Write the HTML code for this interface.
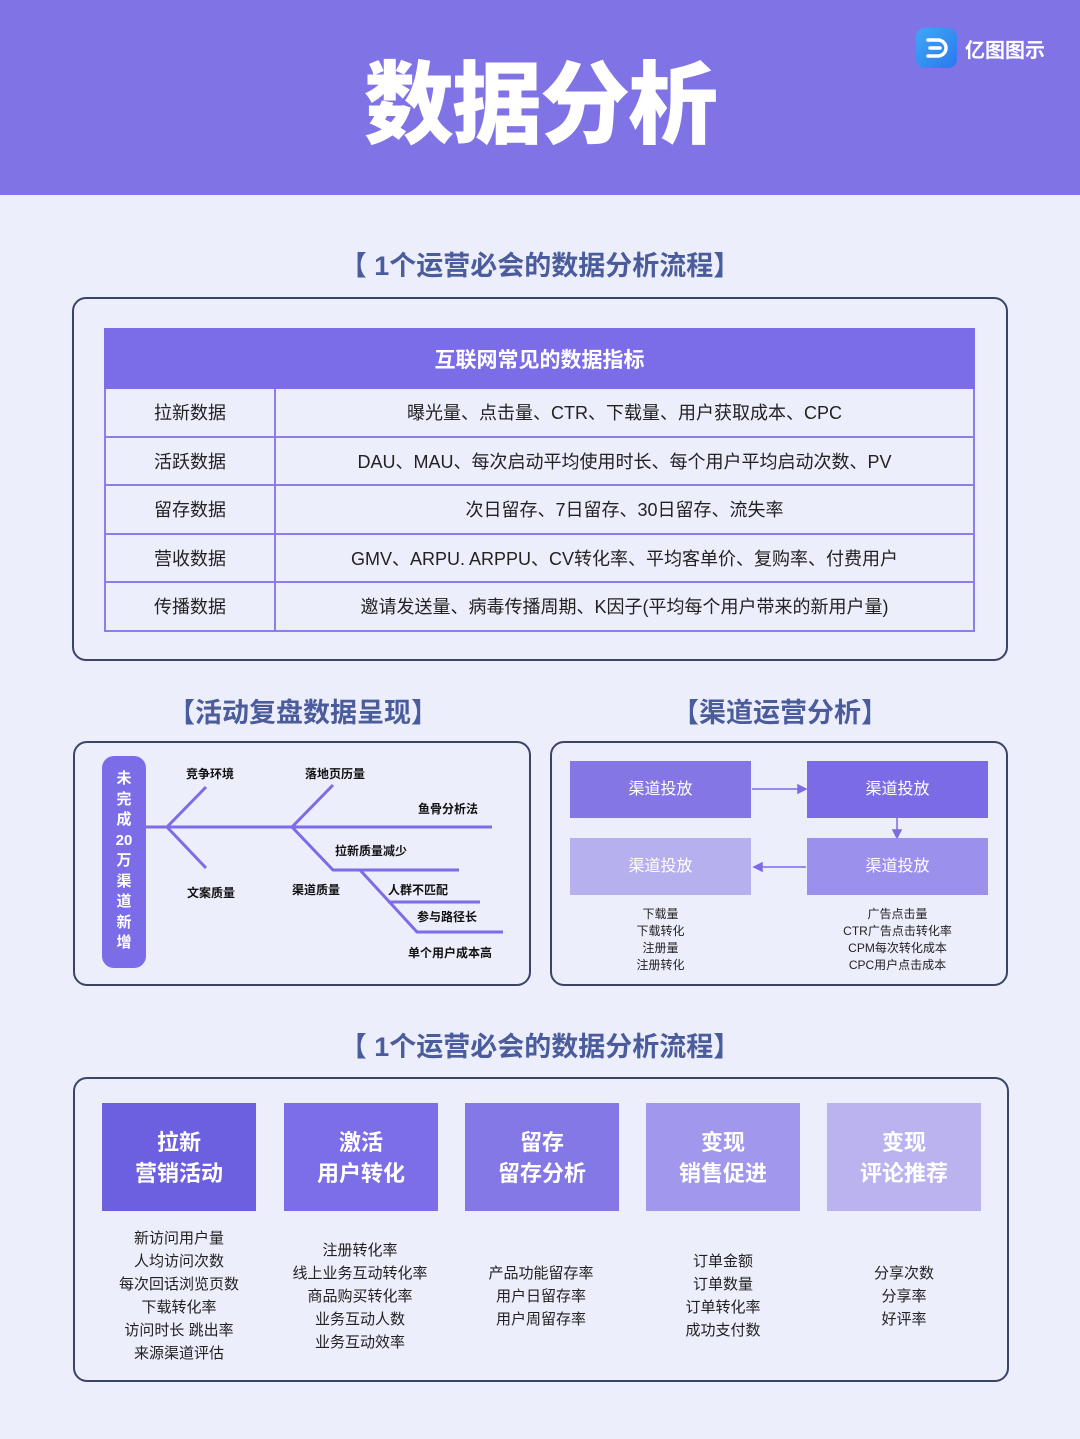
<!DOCTYPE html>
<html><head><meta charset="utf-8"><style>
*{margin:0;padding:0;box-sizing:border-box}
body{width:1080px;height:1439px;background:#eceefb;font-family:"Liberation Sans","Noto Sans CJK SC",sans-serif;position:relative;overflow:hidden;color:#222}
.a{position:absolute}
.hdr{left:0;top:0;width:1080px;height:195px;background:#7f73e6}
.title{left:0;width:1080px;top:32px;text-align:center;color:#fff;font-size:90px;font-weight:900;letter-spacing:-2px}
.st{font-size:27px;font-weight:bold;color:#4b5c9c;text-align:center}
.box{border:2px solid #3c4466;border-radius:14px}
table{border-collapse:collapse;position:absolute;left:104px;top:328px;width:871px}
td{border:2px solid #8b7ee8;text-align:center;font-size:18px;height:48.5px}
th{background:#7b6ce8;color:#fff;font-size:21px;height:59px;border:2px solid #7b6ce8}
.fl{font-size:12px;font-weight:bold;color:#111;white-space:nowrap}
.cb{color:#fff;font-size:16px;text-align:center;line-height:57px;height:57px;width:181px}
.ls{font-size:12px;text-align:center;line-height:17px;color:#222}
.bb{width:154px;height:108px;color:#fff;font-size:22px;font-weight:bold;text-align:center;line-height:31px;padding-top:24px}
.bl{font-size:15px;text-align:center;line-height:23px;width:180px;color:#222}
</style></head><body>
<div class="a hdr"></div>
<div class="a title">数据分析</div>
<div class="a" style="left:916px;top:28px;width:41px;height:40px;border-radius:9px;background:linear-gradient(135deg,#3fa8f5,#2a78f0)"></div>
<svg class="a" style="left:916px;top:28px" width="41" height="40"><path d="M12 12h10a8 8 0 0 1 0 16H12M14 20h10" stroke="#fff" stroke-width="3.5" fill="none" stroke-linecap="round"/></svg>
<div class="a" style="left:965px;top:34px;color:#fff;font-size:20px;font-weight:bold">亿图图示</div>

<div class="a st" style="left:0;width:1080px;top:244px">【 1个运营必会的数据分析流程】</div>
<div class="a box" style="left:72px;top:297px;width:936px;height:364px"></div>
<table>
<tr><th colspan="2">互联网常见的数据指标</th></tr>
<tr><td style="width:170px">拉新数据</td><td>曝光量、点击量、CTR、下载量、用户获取成本、CPC</td></tr>
<tr><td>活跃数据</td><td>DAU、MAU、每次启动平均使用时长、每个用户平均启动次数、PV</td></tr>
<tr><td>留存数据</td><td>次日留存、7日留存、30日留存、流失率</td></tr>
<tr><td>营收数据</td><td>GMV、ARPU. ARPPU、CV转化率、平均客单价、复购率、付费用户</td></tr>
<tr><td>传播数据</td><td>邀请发送量、病毒传播周期、K因子(平均每个用户带来的新用户量)</td></tr>
</table>

<div class="a st" style="left:100px;width:406px;top:691px">【活动复盘数据呈现】</div>
<div class="a st" style="left:580px;width:400px;top:691px">【渠道运营分析】</div>
<div class="a box" style="left:73px;top:741px;width:458px;height:245px"></div>
<div class="a box" style="left:550px;top:741px;width:458px;height:245px"></div>

<div class="a" style="left:102px;top:756px;width:44px;height:212px;border-radius:12px;background:#7b6ce8;color:#fff;font-size:15px;font-weight:bold;text-align:center;line-height:20.5px;padding-top:13px">未<br>完<br>成<br>20<br>万<br>渠<br>道<br>新<br>增</div>
<svg class="a" style="left:0;top:0" width="1080" height="1000">
<g stroke="#7b6ce8" stroke-width="3" fill="none">
<path d="M146 827H492M206 787L167 827L206 868M333 785L292 827L333 870H459M360 870L417 932H503M388 902H480"/>
</g>
<g stroke="#7b6ce8" stroke-width="1.5" fill="#7b6ce8">
<path d="M752 789H800" /><path d="M798 785l8 4-8 4z"/>
<path d="M897 818V832"/><path d="M893 830l4 8 4-8z"/>
<path d="M806 867H760"/><path d="M762 863l-8 4 8 4z"/>
</g>
</svg>
<div class="a fl" style="left:186px;top:765px">竞争环境</div>
<div class="a fl" style="left:305px;top:765px">落地页历量</div>
<div class="a fl" style="left:418px;top:800px">鱼骨分析法</div>
<div class="a fl" style="left:335px;top:842px">拉新质量减少</div>
<div class="a fl" style="left:187px;top:884px">文案质量</div>
<div class="a fl" style="left:292px;top:881px">渠道质量</div>
<div class="a fl" style="left:388px;top:881px">人群不匹配</div>
<div class="a fl" style="left:417px;top:908px">参与路径长</div>
<div class="a fl" style="left:408px;top:944px">单个用户成本高</div>

<div class="a cb" style="left:570px;top:761px;background:#8576e6">渠道投放</div>
<div class="a cb" style="left:807px;top:761px;background:#7b6ce6">渠道投放</div>
<div class="a cb" style="left:570px;top:838px;background:#b7b0ef">渠道投放</div>
<div class="a cb" style="left:807px;top:838px;background:#9b90ec">渠道投放</div>
<div class="a ls" style="left:590px;width:141px;top:906px">下载量<br>下载转化<br>注册量<br>注册转化</div>
<div class="a ls" style="left:817px;width:161px;top:906px">广告点击量<br>CTR广告点击转化率<br>CPM每次转化成本<br>CPC用户点击成本</div>

<div class="a st" style="left:0;width:1080px;top:1025px">【 1个运营必会的数据分析流程】</div>
<div class="a box" style="left:73px;top:1077px;width:936px;height:305px"></div>
<div class="a bb" style="left:102px;top:1103px;background:#6c5fe0">拉新<br>营销活动</div>
<div class="a bb" style="left:284px;top:1103px;background:#7b6ee6">激活<br>用户转化</div>
<div class="a bb" style="left:465px;top:1103px;background:#8477e6">留存<br>留存分析</div>
<div class="a bb" style="left:646px;top:1103px;background:#a197ec">变现<br>销售促进</div>
<div class="a bb" style="left:827px;top:1103px;background:#bab3f0">变现<br>评论推荐</div>
<div class="a bl" style="left:89px;top:1227px">新访问用户量<br>人均访问次数<br>每次回话浏览页数<br>下载转化率<br>访问时长 跳出率<br>来源渠道评估</div>
<div class="a bl" style="left:270px;top:1239px">注册转化率<br>线上业务互动转化率<br>商品购买转化率<br>业务互动人数<br>业务互动效率</div>
<div class="a bl" style="left:451px;top:1262px">产品功能留存率<br>用户日留存率<br>用户周留存率</div>
<div class="a bl" style="left:633px;top:1250px">订单金额<br>订单数量<br>订单转化率<br>成功支付数</div>
<div class="a bl" style="left:814px;top:1262px">分享次数<br>分享率<br>好评率</div>
</body></html>
